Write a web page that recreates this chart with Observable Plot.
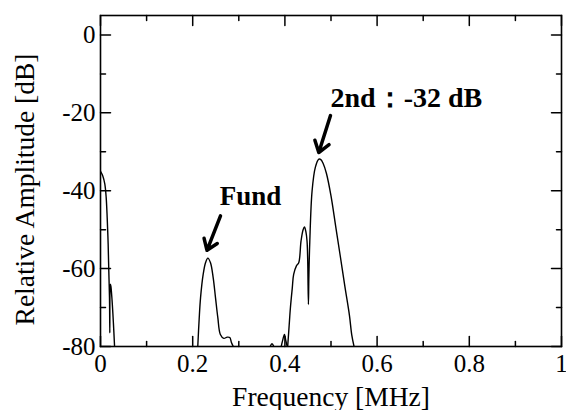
<!DOCTYPE html>
<html><head><meta charset="utf-8">
<script src="https://cdn.jsdelivr.net/npm/d3@7"></script>
<script src="https://cdn.jsdelivr.net/npm/@observablehq/plot@0.6"></script>
<style>body{margin:0;background:#fff;}</style>
</head><body><div id="chart"></div>
<script>
// ---- data ----
const dcFreq = [0, 0.005, 0.0094, 0.0123, 0.0145, 0.0166, 0.018, 0.0195, 0.0202, 0.0206, 0.0215, 0.0225, 0.025, 0.028, 0.0305];
const dcAmp  = [-35, -36.2, -38.3, -41.7, -46.9, -53.7, -60.6, -67.5, -76.5, -66, -64, -64.5, -68, -74, -80];

const fundFreq = [0.211, 0.214, 0.217, 0.2227, 0.2278, 0.2328, 0.2386, 0.2444, 0.2495, 0.2545, 0.260, 0.2675, 0.2748, 0.2805, 0.284, 0.288];
const fundAmp  = [-80, -73, -67.5, -61.5, -58.5, -57.3, -58.5, -62.3, -67.5, -72.6, -76.9, -77.9, -77.6, -77.7, -79, -80];

const blipFreq = [0.368, 0.372, 0.376];
const blipAmp  = [-80, -79.3, -80];

const smallFreq = [0.392, 0.395, 0.399, 0.402, 0.405];
const smallAmp  = [-80, -78.5, -76.9, -78.5, -80];

const secondFreq = [0.406, 0.409, 0.412, 0.416, 0.419, 0.425, 0.430, 0.435, 0.4395, 0.4425, 0.4455, 0.448, 0.4495, 0.451, 0.452, 0.454, 0.459, 0.466, 0.4736, 0.478, 0.483, 0.49, 0.50, 0.51, 0.52, 0.53, 0.54, 0.545, 0.55];
const secondAmp  = [-80, -75, -70, -65, -61.5, -59.3, -58.5, -52.9, -50, -49.3, -50.5, -52.9, -58, -69.2, -62, -53, -40, -34, -31.9, -32, -33, -35.5, -41.3, -49, -56.7, -64.5, -72, -77, -80];

const xTicks = [0, 0.2, 0.4, 0.6, 0.8, 1];
const xMinor = [0.1, 0.3, 0.5, 0.7, 0.9];
const yTicks = [0, -20, -40, -60, -80];
const yMinor = [-10, -30, -50, -70];

const labelTexts = ["Fund", "2nd\uFF1A-32 dB"];
const labelFreq  = [0.3254, 0.4989];
const labelAmp   = [-43.6, -18.5];
const arrowFrom  = [[0.2603, -46.45], [0.4989, -20.7]];
const arrowTo    = [[0.2310, -55.3], [0.4735, -30.2]];

const xTitle = "Frequency [MHz]";
const yTitle = "Relative Amplitude [dB]";

// ---- build tables ----
const segments = [
  ["dc", dcFreq, dcAmp], ["fund", fundFreq, fundAmp], ["blip", blipFreq, blipAmp],
  ["small", smallFreq, smallAmp], ["second", secondFreq, secondAmp]
];
const rows = segments.flatMap(([seg, F, A]) => F.map((f, i) => ({seg, f, a: A[i]})));
const labels = labelTexts.map((t, i) => ({t, f: labelFreq[i], a: labelAmp[i]}));
const arrows = arrowFrom.map((p, i) => ({x1: p[0], y1: p[1], x2: arrowTo[i][0], y2: arrowTo[i][1]}));

const tickShape = {draw(c, l) { c.moveTo(0, 0); c.lineTo(0, -l); }};
const FONT = "Liberation Serif";
const tickStyle = {stroke: "black", strokeWidth: 1.5, shape: tickShape, anchor: "start"};

const chart = Plot.plot({
  width: 566,
  height: 410,
  marginLeft: 100,
  marginRight: 5,
  marginTop: 15,
  marginBottom: 64,
  style: {fontFamily: FONT, background: "white"},
  x: {domain: [0, 1], label: null},
  y: {domain: [-80, 5], label: null},
  marks: [
    Plot.line(rows, {x: "f", y: "a", z: "seg", stroke: "black", strokeWidth: 1.4, curve: "catmull-rom", clip: true}),
    // inward ticks on all four sides
    Plot.vector(xTicks, {x: d => d, frameAnchor: "bottom", length: 10, rotate: 0, ...tickStyle}),
    Plot.vector(xMinor, {x: d => d, frameAnchor: "bottom", length: 5, rotate: 0, ...tickStyle}),
    Plot.vector(xTicks, {x: d => d, frameAnchor: "top", length: 10, rotate: 180, ...tickStyle}),
    Plot.vector(xMinor, {x: d => d, frameAnchor: "top", length: 5, rotate: 180, ...tickStyle}),
    Plot.vector(yTicks, {y: d => d, frameAnchor: "left", length: 10, rotate: 90, ...tickStyle}),
    Plot.vector(yMinor, {y: d => d, frameAnchor: "left", length: 5, rotate: 90, ...tickStyle}),
    Plot.vector(yTicks, {y: d => d, frameAnchor: "right", length: 10, rotate: -90, ...tickStyle}),
    Plot.vector(yMinor, {y: d => d, frameAnchor: "right", length: 5, rotate: -90, ...tickStyle}),
    Plot.frame({stroke: "black", strokeWidth: 1.6}),
    Plot.axisX(xTicks, {anchor: "bottom", tickSize: 0, tickPadding: 8, fontSize: 25, fontFamily: FONT, fontVariant: "normal", tickFormat: d => String(d), label: null, fill: "black"}),
    Plot.axisY(yTicks, {anchor: "left", tickSize: 0, tickPadding: 5, fontSize: 25, fontFamily: FONT, fontVariant: "normal", tickFormat: d => String(d), label: null, fill: "black"}),
    Plot.text([xTitle], {text: d => d, frameAnchor: "bottom", textAnchor: "middle", dy: 59, fontSize: 27.5, fontFamily: FONT, lineAnchor: "bottom", fill: "black"}),
    Plot.text([yTitle], {text: d => d, frameAnchor: "left", textAnchor: "middle", rotate: -90, dx: -67, dy: 8.5, fontSize: 27.5, fontFamily: FONT, lineAnchor: "bottom", fill: "black"}),
    Plot.text(labels.slice(0, 1), {x: "f", y: "a", text: "t", textAnchor: "middle", lineAnchor: "bottom", fontSize: 27, fontFamily: FONT, fontWeight: "bold", fill: "black"}),
    Plot.text(labels.slice(1), {x: "f", y: "a", text: "t", textAnchor: "start", lineAnchor: "bottom", fontSize: 28, fontFamily: FONT, fontWeight: "bold", fill: "black"}),
    Plot.arrow(arrows, {x1: "x1", y1: "y1", x2: "x2", y2: "y2", stroke: "black", strokeWidth: 3.5, headLength: 13, headAngle: 70})
  ]
});
document.getElementById("chart").append(chart);
</script>
</body></html>
